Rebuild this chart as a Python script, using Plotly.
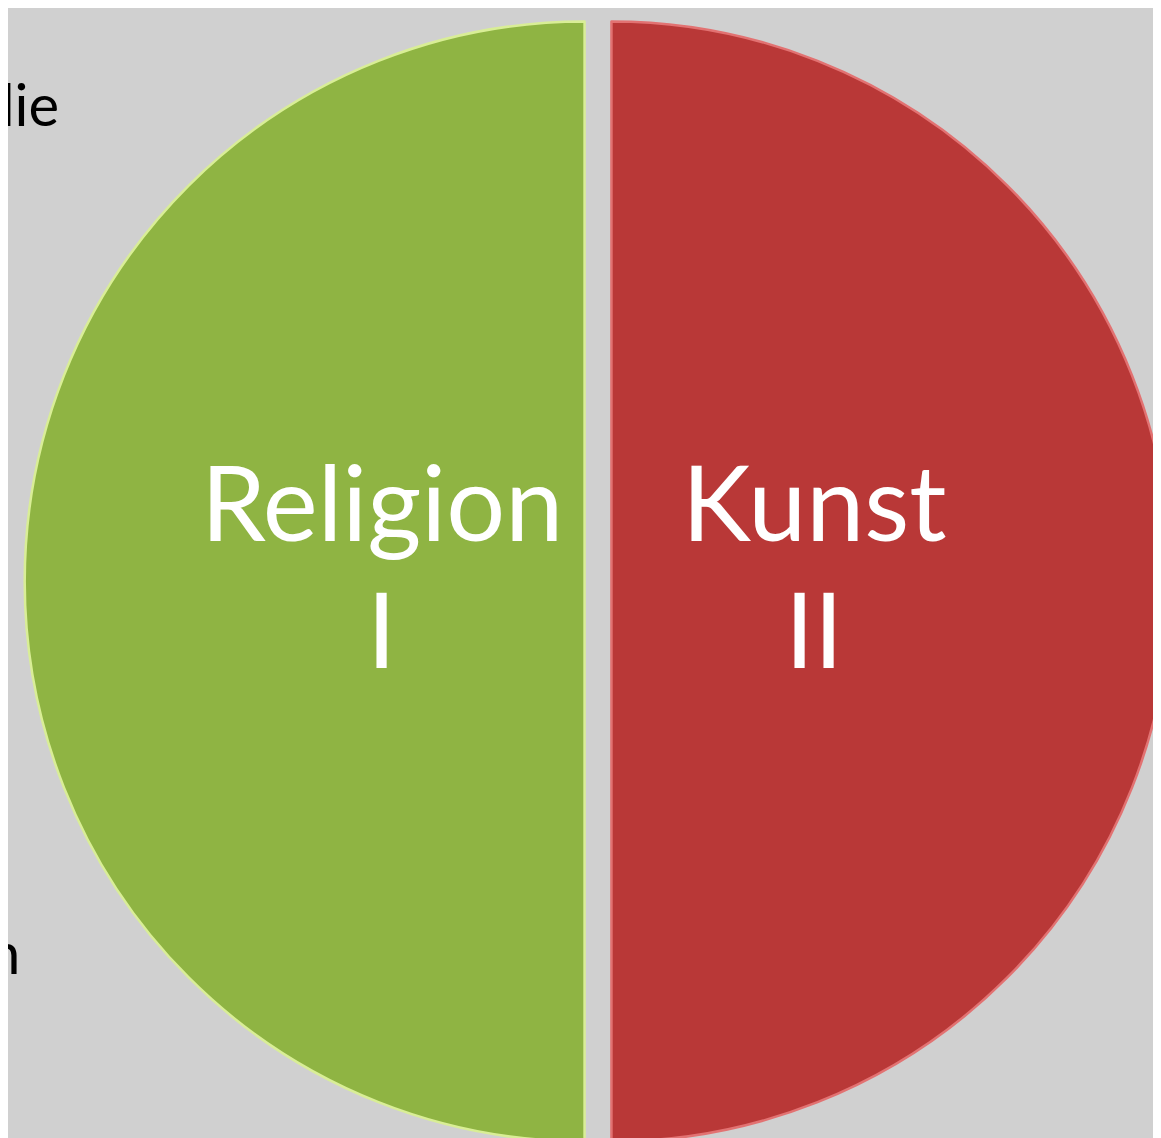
import plotly.graph_objects as go

# two equal halves of the pie
categories = ["Religion", "Kunst"]
numerals = ["I", "II"]
values = [50, 50]
slice_colors = ["#8fb443", "#b93837"]
edge_colors = ["#d9ee96", "#e27272"]

# cut-off text fragments at the left edge of the slide
side_texts = ["die", "n"]

W, H = 1200, 1147

fig = go.Figure(
    go.Pie(
        labels=categories,
        values=values,
        sort=False,
        direction="clockwise",
        rotation=180,
        pull=[0.024, 0.024],
        marker=dict(colors=slice_colors, line=dict(color=edge_colors, width=2.5)),
        textinfo="none",
        showlegend=False,
        hoverinfo="label",
        domain=dict(x=[0, 1180 / W], y=[0, 1]),
    )
)

# slice labels, two lines each, placed like the slide
label_x = [373.5, 806]
for name, num, xp in zip(categories, numerals, label_x):
    for txt, yp in [(name, 492), (num, 619)]:
        fig.add_annotation(
            text=txt, xref="paper", yref="paper", x=xp / W, y=1 - yp / H,
            xanchor="center", yanchor="middle", showarrow=False,
            font=dict(family="Lato", size=104, color="white"),
        )

fig.add_annotation(
    text=side_texts[0], xref="paper", yref="paper", x=53 / W, y=1 - 96 / H,
    xanchor="right", yanchor="middle", showarrow=False,
    font=dict(family="Lato", size=58, color="black"),
)
fig.add_annotation(
    text=side_texts[1], xref="paper", yref="paper", x=14 / W, y=1 - 943 / H,
    xanchor="right", yanchor="middle", showarrow=False,
    font=dict(family="Lato", size=58, color="black"),
)

fig.update_layout(
    width=W,
    height=H,
    margin=dict(l=0, r=0, t=0, b=0),
    paper_bgcolor="#d0d0d0",
    plot_bgcolor="#d0d0d0",
)

fig.write_html("out.html")
